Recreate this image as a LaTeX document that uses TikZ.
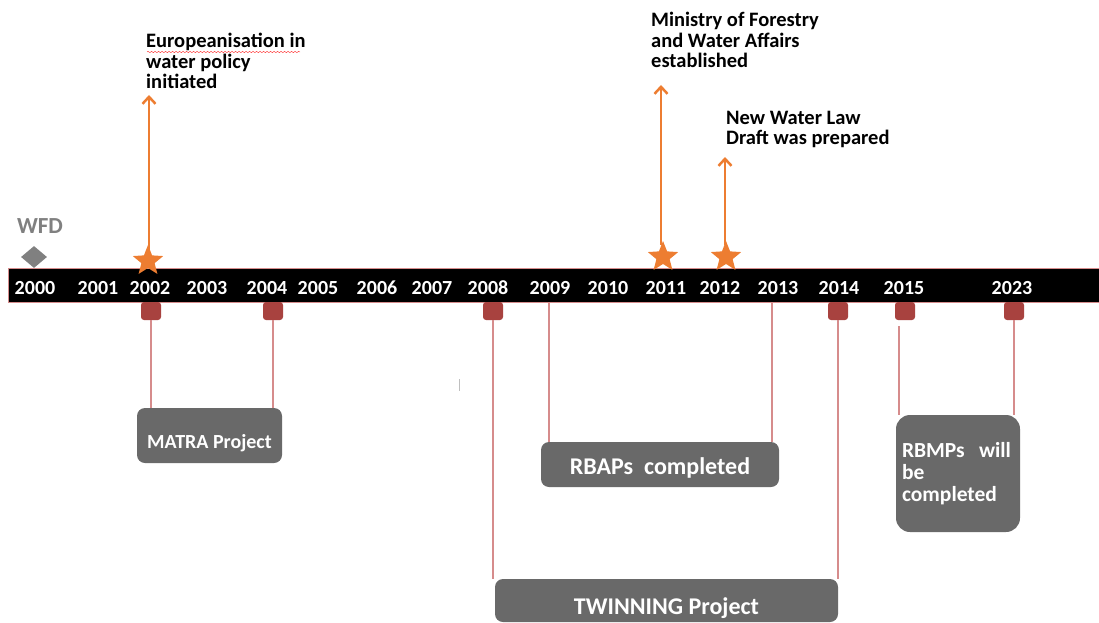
\documentclass[tikz,border=0pt]{standalone}
\usepackage{fontspec}
\setmainfont{Carlito}
\usetikzlibrary{arrows.meta}
\usetikzlibrary{decorations.pathmorphing}
\usetikzlibrary{positioning}
\usetikzlibrary{shapes.geometric}
\definecolor{morange}{RGB}{237, 125, 49}
\definecolor{mred}{RGB}{168, 66, 63}
\definecolor{mpink}{RGB}{214, 140, 140}
\definecolor{mgrey}{RGB}{105, 105, 105}
\definecolor{mwfd}{RGB}{128, 128, 128}
\tikzset{year/.style = {text=white, inner sep=0, font=\bfseries\fontsize{20}{22}\selectfont}}
\tikzset{event/.style = {anchor=north west, align=left, inner sep=0, font=\bfseries\fontsize{20.5}{20.5}\selectfont}}
\tikzset{milestone/.style = {star, star points=5, star point ratio=2.3, fill=morange, minimum size=32, inner sep=0}}
\tikzset{rise/.style = {draw=morange, line width=2.5, -{Straight Barb[length=7, width=13]}}}
\tikzset{peg/.style = {fill=mred, rounded corners=3, minimum width=20, minimum height=18, inner sep=0}}
\tikzset{link/.style = {draw=mpink, line width=1.5}}
\tikzset{box/.style = {fill=mgrey, rounded corners=8, text=white, inner sep=0, font=\bfseries\fontsize{24}{22}\selectfont}}

\begin{document}
\begin{tikzpicture}[x=1pt, y=-1pt]
  \useasboundingbox (0, 0) rectangle (1099, 623);

  \node [draw=mpink, line width=1, fill=black, minimum width=1091, minimum height=34, inner sep=0] (bar) at (553.5, 285) {};
  \foreach \yr/\x in {2000/35, 2001/98, 2002/150, 2003/207, 2004/267, 2005/318, 2006/377, 2007/432, 2008/488, 2009/550, 2010/608, 2011/666, 2012/720, 2013/778, 2014/839, 2015/904, 2023/1012}
    \node [year] (y\yr) at (\x, 288) {\yr};

  \node [diamond, fill=mwfd, minimum width=26, minimum height=22, inner sep=0] (wfd) at (34, 257) {};
  \node [text=mwfd, inner sep=0, font=\bfseries\fontsize{23}{24}\selectfont] (wfdtext) at (40, 226) {WFD};

  \coordinate (t2002) at (149, 95);
  \coordinate (t2011) at (661, 85);
  \coordinate (t2012) at (725, 157);
  \draw [rise] (149, 250) -- (t2002);
  \draw [rise] (661, 245) -- (t2011);
  \draw [rise] (725, 245) -- (t2012);
  \node [milestone] (s2002) at (148, 261) {};
  \node [milestone] (s2011) at (663, 257) {};
  \node [milestone] (s2012) at (726, 257) {};

  \node [event] (e2002) at (146, 33) {Europeanisation in\\water policy\\initiated};
  \node [event] (e2011) at (651, 12) {Ministry of Forestry\\and Water Affairs\\established};
  \node [event] (e2012) at (726, 111) {New Water Law\\Draft was prepared};
  \draw [red!85, decorate, decoration={snake, amplitude=0.7, segment length=3.5}] (147, 52) -- (300, 52);

  \node [box, minimum width=145, minimum height=55, text height=30, text depth=4, font=\bfseries\fontsize{20}{22}\selectfont] (matra) at (209.5, 435.5) {MATRA Project};
  \node [box, minimum width=238, minimum height=45, text height=25, text depth=5] (rbaps) at (660, 464.5) {RBAPs\ \ completed};
  \node [box, minimum width=343, minimum height=43, text height=32, text depth=5] (twinning) at (666.5, 600.5) {TWINNING Project};
  \node [box, minimum width=124, minimum height=117, text width=112, align=left, rounded corners=14, font=\bfseries\fontsize{21.5}{22}\selectfont] (rbmps) at (958, 473.5) {RBMPs\ \ will\\be\\completed};

  \foreach \yr/\x in {2002/151, 2004/273, 2008/493, 2014/838, 2015/905, 2023/1014}
    \node [peg] (p\yr) at (\x, 311) {};
  \coordinate (c2009) at (549, 302);
  \coordinate (c2013) at (772, 302);
  \coordinate (c2015) at (899, 326);

  \draw [link] (p2002) -- (p2002 |- matra.north);
  \draw [link] (p2004) -- (p2004 |- matra.north);
  \draw [link] (p2008) -- (p2008 |- twinning.north);
  \draw [link] (p2014) -- (p2014 |- twinning.north);
  \draw [link] (c2009) -- (c2009 |- rbaps.north);
  \draw [link] (c2013) -- (c2013 |- rbaps.north);
  \draw [link] (c2015) -- (c2015 |- rbmps.north);
  \draw [link] (p2023) -- (p2023 |- rbmps.north);

  \draw [lightgray, line width=1] (459, 379) -- (459, 391);
\end{tikzpicture}
\end{document}
